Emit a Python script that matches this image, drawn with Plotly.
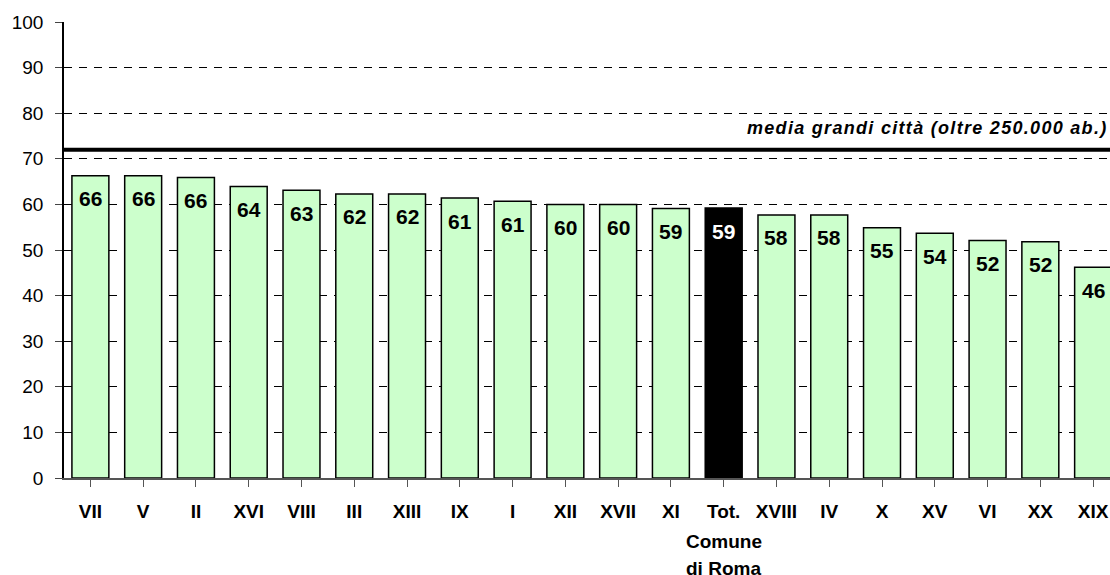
import plotly.graph_objects as go

categories = ["VII", "V", "II", "XVI", "VIII", "III", "XIII", "IX", "I", "XII",
              "XVII", "XI", "Tot.", "XVIII", "IV", "X", "XV", "VI", "XX", "XIX"]
values = [66.3, 66.3, 65.9, 63.9, 63.1, 62.3, 62.3, 61.4, 60.7, 60.0,
          60.0, 59.1, 59.2, 57.7, 57.7, 54.9, 53.7, 52.1, 51.8, 46.2]
labels = ["66", "66", "66", "64", "63", "62", "62", "61", "61", "60",
          "60", "59", "59", "58", "58", "55", "54", "52", "52", "46"]
total_category = "Tot."
total_sublabels = ["Comune", "di Roma"]
big_city_mean = 72
big_city_label = "media grandi città (oltre 250.000 ab.)"
y_ticks = list(range(0, 101, 10))

FONT = "Arial, Liberation Sans, sans-serif"
GREEN = "#CCFFCC"

colors = ["#000000" if c == total_category else GREEN for c in categories]
xidx = list(range(len(categories)))

fig = go.Figure()
fig.add_trace(go.Bar(
    x=xidx, y=values,
    marker=dict(color=colors, line=dict(color="#000000", width=1.5)),
    width=0.70,
    hoverinfo="skip",
))

annotations = []
for i, (c, v, t) in enumerate(zip(categories, values, labels)):
    annotations.append(dict(
        x=i, y=v, xref="x", yref="y", text="<b>%s</b>" % t,
        showarrow=False, yanchor="middle", yshift=-23,
        font=dict(family=FONT, size=21,
                  color="#FFFFFF" if c == total_category else "#000000"),
    ))

ti = categories.index(total_category)
for k, s in enumerate(total_sublabels):
    annotations.append(dict(
        x=ti, y=0, xref="x", yref="paper", text="<b>%s</b>" % s,
        showarrow=False, yanchor="middle", yshift=-63 - 27 * k,
        font=dict(family=FONT, size=19, color="#000000"),
    ))

annotations.append(dict(
    x=1, y=big_city_mean, xref="paper", yref="y",
    text='<span style="letter-spacing:1.3px"><b><i>%s</i></b></span>' % big_city_label,
    showarrow=False, xanchor="right", yanchor="middle", yshift=22,
    font=dict(family=FONT, size=18, color="#000000"),
))

fig.add_shape(type="line", xref="paper", yref="y", x0=0, x1=1,
              y0=big_city_mean, y1=big_city_mean,
              line=dict(color="#000000", width=4))

fig.update_layout(
    width=1110, height=575,
    margin=dict(l=64, r=0, t=22, b=97),
    paper_bgcolor="#FFFFFF", plot_bgcolor="#FFFFFF",
    showlegend=False,
    annotations=annotations,
    font=dict(family=FONT, color="#000000"),
)
fig.update_xaxes(
    tickmode="array", tickvals=xidx,
    ticktext=["<b>%s</b>" % c for c in categories],
    range=[-0.5, 19.32],
    showline=True, linecolor="#555555", linewidth=2,
    ticks="outside", tickson="boundaries", ticklen=7, tickcolor="#555555",
    tickfont=dict(family=FONT, size=19, color="#000000"),
    ticklabelstandoff=8,
    showgrid=False, zeroline=False, fixedrange=True,
)
fig.update_yaxes(
    range=[0, 100], tickvals=y_ticks,
    showline=True, linecolor="#000000", linewidth=1.5,
    ticks="outside", ticklen=7, tickcolor="#444444",
    tickfont=dict(family=FONT, size=19, color="#000000"),
    ticklabelstandoff=8,
    showgrid=True, gridcolor="#000000", gridwidth=1, griddash="8px,7px",
    zeroline=False, fixedrange=True,
)

fig.write_html("out.html", config={"displayModeBar": False})
